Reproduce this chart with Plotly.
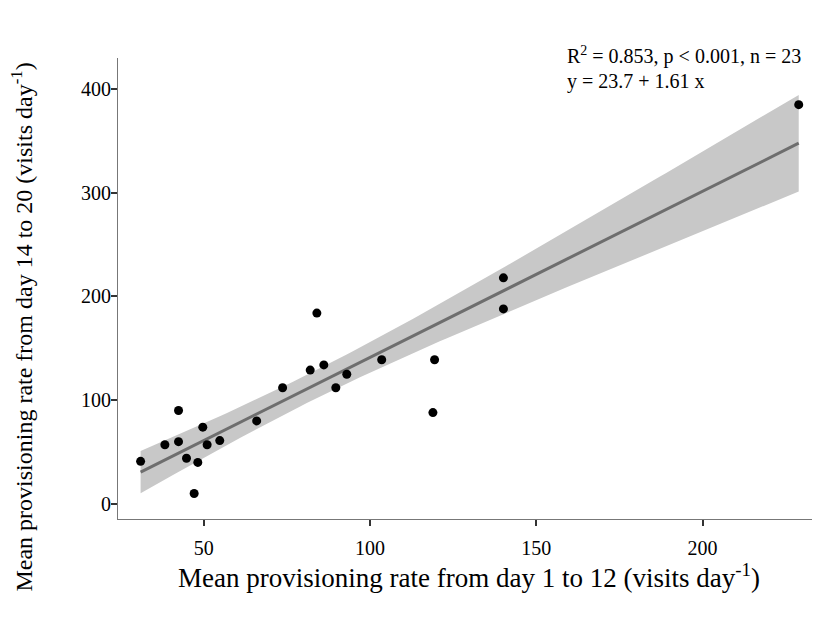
import numpy as np
import plotly.graph_objects as go

# Data
rate_day1_12 = [31.0, 38.3, 42.4, 42.4, 44.8, 48.2, 47.1, 49.7, 51.0, 54.8, 65.9, 73.7,
                82.0, 84.0, 86.1, 89.7, 93.0, 103.5, 118.9, 119.4, 140.1, 140.1, 228.9]
rate_day14_20 = [41, 57, 90, 60, 44, 40, 10, 74, 57, 61, 80, 112,
                 129, 184, 134, 112, 125, 139, 88, 139, 188, 218, 385]
x_ticks = [50, 100, 150, 200]
y_ticks = [0, 100, 200, 300, 400]
annot_lines = ["R<sup>2</sup> = 0.853, p < 0.001, n = 23", "y = 23.7 + 1.61 x"]
x_title = "Mean provisioning rate from day 1 to 12 (visits day<sup>-1</sup>)"
y_title = "Mean provisioning rate from day 14 to 20 (visits day<sup>-1</sup>)"

x = np.array(rate_day1_12, dtype=float)
y = np.array(rate_day14_20, dtype=float)
n = len(x)

# OLS fit with 95% confidence band
b1, b0 = np.polyfit(x, y, 1)
resid = y - (b0 + b1 * x)
s = np.sqrt(np.sum(resid ** 2) / (n - 2))
sxx = np.sum((x - x.mean()) ** 2)
t_crit = 2.0796  # t(0.975, df=21)
xg = np.linspace(x.min(), x.max(), 100)
yg = b0 + b1 * xg
se = s * np.sqrt(1.0 / n + (xg - x.mean()) ** 2 / sxx)
upper = yg + t_crit * se
lower = yg - t_crit * se

font_family = "Liberation Serif, Times New Roman, serif"

fig = go.Figure()
fig.add_trace(go.Scatter(
    x=np.concatenate([xg, xg[::-1]]), y=np.concatenate([upper, lower[::-1]]),
    fill="toself", fillcolor="rgba(200,200,200,1)", line=dict(width=0),
    hoverinfo="skip", showlegend=False))
fig.add_trace(go.Scatter(x=xg, y=yg, mode="lines",
                         line=dict(color="#6e6e6e", width=3), showlegend=False))
fig.add_trace(go.Scatter(x=x, y=y, mode="markers",
                         marker=dict(color="black", size=9), showlegend=False))

for txt, ypos in zip(annot_lines, [1.006, 0.950]):
    fig.add_annotation(
        text=txt, xref="paper", yref="paper",
        x=0.637, y=ypos, xanchor="left", yanchor="middle", align="left",
        showarrow=False, font=dict(family=font_family, size=20, color="black"))

# y-axis title placed as rotated annotation (centred lower than the panel centre, as in the reference)
fig.add_annotation(
    text=y_title, xref="paper", yref="paper", x=-0.137, y=0.417,
    xanchor="center", yanchor="middle", textangle=-90, showarrow=False,
    font=dict(family=font_family, size=24, color="black"))

axis_common = dict(
    showline=True, linecolor="#777777", linewidth=1.2, showgrid=False, zeroline=False,
    ticks="outside", ticklen=6, tickcolor="#333333", tickwidth=1.5,
    tickfont=dict(family=font_family, size=20, color="black"), mirror=False)

fig.update_layout(
    width=812, height=615,
    margin=dict(l=110, r=0, t=50, b=104),
    paper_bgcolor="white", plot_bgcolor="white",
    xaxis=dict(range=[24.2, 235.3], tickvals=x_ticks, ticklabelstandoff=5,
               title=dict(text=x_title,
                          font=dict(family=font_family, size=27, color="black"), standoff=8),
               **axis_common),
    yaxis=dict(range=[-14.6, 430], tickvals=y_ticks, ticklabelstandoff=-4,
               **axis_common),
)

fig.write_html("out.html")
